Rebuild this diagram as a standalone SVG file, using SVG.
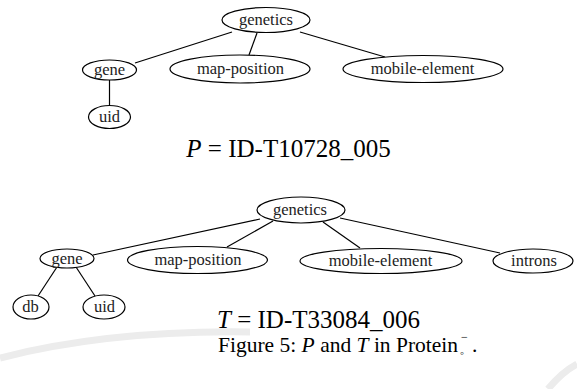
<svg xmlns="http://www.w3.org/2000/svg" width="577" height="389" viewBox="0 0 577 389">
<style>
.n ellipse{fill:#fff;stroke:#000;stroke-width:1.2}
.n text{font-family:'Liberation Serif',serif;font-size:16.5px;text-anchor:middle;fill:#222}
#edges line{stroke:#000;stroke-width:1.2}
.cap{font-family:'Liberation Serif',serif;fill:#000}
.wm{fill:none;stroke:#ececec;stroke-width:7}
</style>
<rect width="577" height="389" fill="#fff"/>
<path class="wm" d="M0,358 Q110,330 250,332"/>
<path class="wm" d="M548,389 Q562,372 577,364"/>
<g id="edges">
<line x1="232" y1="32" x2="135" y2="63"/>
<line x1="257" y1="33" x2="249" y2="55"/>
<line x1="300" y1="32" x2="385" y2="57"/>
<line x1="109.5" y1="80" x2="109.5" y2="105.5"/>
<line x1="260" y1="219" x2="93" y2="255"/>
<line x1="273" y1="221" x2="227" y2="247"/>
<line x1="323" y1="222" x2="360" y2="248"/>
<line x1="340" y1="218" x2="500" y2="253"/>
<line x1="57" y1="267" x2="38" y2="296"/>
<line x1="76" y1="267" x2="95" y2="296"/>
</g>
<g id="p-genetics" class="n" font-family="Liberation Serif, serif"><ellipse cx="266" cy="20" rx="44" ry="12.5"/><text x="266" y="25">genetics</text></g>
<g id="p-gene" class="n" font-family="Liberation Serif, serif"><ellipse cx="109.5" cy="70" rx="27" ry="10"/><text x="109.5" y="75">gene</text></g>
<g id="p-map-position" class="n" font-family="Liberation Serif, serif"><ellipse cx="240" cy="69" rx="70" ry="14"/><text x="240.5" y="74">map-position</text></g>
<g id="p-mobile-element" class="n" font-family="Liberation Serif, serif"><ellipse cx="423" cy="69" rx="80" ry="13.5"/><text x="422.5" y="74">mobile-element</text></g>
<g id="p-uid" class="n" font-family="Liberation Serif, serif"><ellipse cx="109.5" cy="117" rx="21" ry="11.5"/><text x="109.5" y="122">uid</text></g>
<text class="cap" x="288.5" y="157" font-size="25" text-anchor="middle"><tspan font-style="italic">P</tspan> = ID-T10728_005</text>
<g id="t-genetics" class="n" font-family="Liberation Serif, serif"><ellipse cx="301" cy="210" rx="44" ry="13"/><text x="300" y="215">genetics</text></g>
<g id="t-gene" class="n" font-family="Liberation Serif, serif"><ellipse cx="67" cy="258.5" rx="27" ry="9.5"/><text x="67" y="263.5">gene</text></g>
<g id="t-map-position" class="n" font-family="Liberation Serif, serif"><ellipse cx="197.5" cy="260" rx="70" ry="13.5"/><text x="198" y="265">map-position</text></g>
<g id="t-mobile-element" class="n" font-family="Liberation Serif, serif"><ellipse cx="381" cy="261" rx="81" ry="12.5"/><text x="380.5" y="266">mobile-element</text></g>
<g id="t-introns" class="n" font-family="Liberation Serif, serif"><ellipse cx="533" cy="261" rx="40" ry="12"/><text x="534" y="266">introns</text></g>
<g id="t-db" class="n" font-family="Liberation Serif, serif"><ellipse cx="31" cy="307" rx="18" ry="12"/><text x="30.5" y="312">db</text></g>
<g id="t-uid" class="n" font-family="Liberation Serif, serif"><ellipse cx="104" cy="307" rx="21" ry="12"/><text x="104.5" y="312">uid</text></g>
<text class="cap" x="318.5" y="328" font-size="25" text-anchor="middle"><tspan font-style="italic">T</tspan> = ID-T33084_006</text>
<text class="cap" x="218" y="352" font-size="21.5">Figure 5: <tspan font-style="italic">P</tspan> and <tspan font-style="italic">T</tspan> in Protein</text>
<text class="cap" x="460" y="357" font-size="12">◦</text>
<text class="cap" x="461" y="341" font-size="12">−</text>
<text class="cap" x="472" y="352" font-size="21.5">.</text>
</svg>
